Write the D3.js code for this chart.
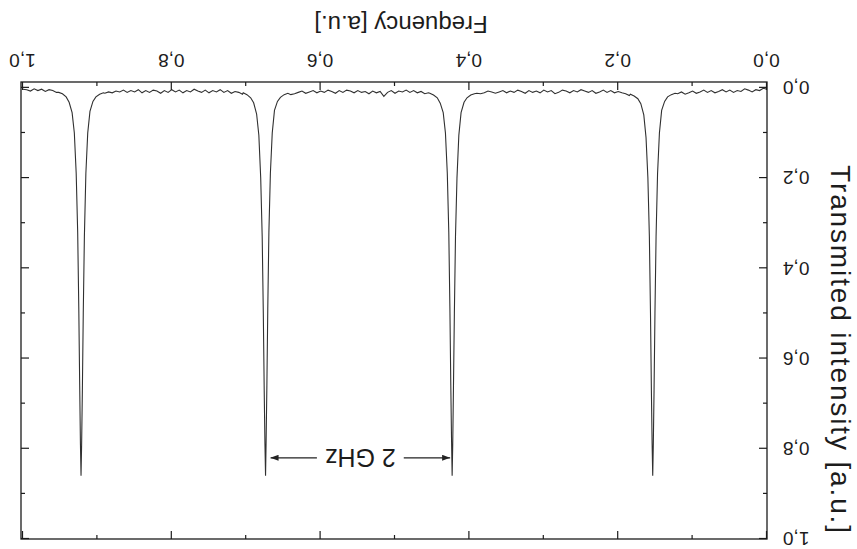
<!DOCTYPE html>
<html>
<head>
<meta charset="utf-8">
<script src="https://cdn.jsdelivr.net/npm/d3@7"></script>
<style>
  body { margin: 0; background: #fff; }
  text { font-family: "Liberation Sans", Arial, sans-serif; fill: #1c1c1c; }
</style>
</head>
<body>
<svg id="chart" width="857" height="549"></svg>
<script>
// transmission peaks: centre frequency of each peak
var peakCenters = [0.1536, 0.4232, 0.674, 0.922];
// offsets from the centre where the peak profile was read
var peakOffsets = [-0.03, -0.025, -0.02, -0.016, -0.012, -0.009, -0.0065, -0.0045, -0.003, -0.0018, -0.0008, 0,
                    0.0008, 0.0018, 0.003, 0.0045, 0.0065, 0.009, 0.012, 0.016, 0.02, 0.025, 0.03];
var peak1 = [0.012, 0.015, 0.02, 0.03, 0.05, 0.10, 0.19, 0.33, 0.50, 0.67, 0.79, 0.86, 0.79, 0.67, 0.50, 0.33, 0.20, 0.11, 0.06, 0.035, 0.024, 0.018, 0.014];
var peak2 = [0.013, 0.016, 0.022, 0.032, 0.055, 0.105, 0.20, 0.33, 0.50, 0.66, 0.79, 0.86, 0.78, 0.66, 0.49, 0.32, 0.19, 0.10, 0.055, 0.034, 0.022, 0.016, 0.012];
var peak3 = [0.012, 0.015, 0.021, 0.03, 0.05, 0.10, 0.19, 0.32, 0.49, 0.66, 0.78, 0.86, 0.79, 0.67, 0.50, 0.33, 0.20, 0.105, 0.058, 0.033, 0.022, 0.015, 0.011];
var peak4 = [0.011, 0.014, 0.02, 0.03, 0.052, 0.10, 0.19, 0.33, 0.50, 0.67, 0.79, 0.86, 0.79, 0.66, 0.49, 0.32, 0.19, 0.10, 0.055, 0.032, 0.02, 0.013, 0.010];

// noisy baseline between the peaks, sampled every 0.005
var baseStep = 0.005;
var baseA = {start: 0.000, values: [
  0.003,0.001,0.006,0.004,0.009,0.005,0.002,0.008,0.006,0.010,
  0.005,0.009,0.004,0.008,0.011,0.006,0.010,0.005,0.009,0.012,
  0.007,0.011,0.014,0.009,0.013]};
var baseB = {start: 0.185, values: [
  0.017,0.013,0.011,0.008,0.011,0.006,0.010,0.005,0.009,0.012,
  0.006,0.010,0.007,0.004,0.009,0.006,0.011,0.007,0.005,0.010,
  0.013,0.006,0.009,0.005,0.011,0.007,0.010,0.006,0.012,0.008,
  0.005,0.010,0.007,0.011,0.006,0.009,0.012,0.009,0.007,0.011,
  0.013,0.012]};
var baseC = {start: 0.455, values: [
  0.011,0.013,0.008,0.011,0.006,0.010,0.005,0.009,0.007,0.012,
  0.006,0.010,0.019,0.008,0.011,0.007,0.013,0.008,0.010,0.006,
  0.011,0.007,0.005,0.010,0.006,0.012,0.008,0.005,0.010,0.007,
  0.011,0.006,0.009,0.012,0.007,0.010,0.013,0.015]};
var baseD = {start: 0.705, values: [
  0.014,0.010,0.008,0.012,0.006,0.010,0.004,0.009,0.006,0.011,
  0.005,0.010,0.007,0.003,0.009,0.006,0.011,0.005,0.009,0.004,
  0.010,0.006,0.012,0.007,0.005,0.010,0.006,0.011,0.004,0.009,
  0.006,0.010,0.005,0.009,0.007,0.011,0.009,0.012]};
var baseE = {start: 0.955, values: [
  0.010,0.006,0.004,0.008,0.003,0.006,0.002,0.007,0.004,0.003]};

var xMajor = [0, 0.2, 0.4, 0.6, 0.8, 1.0];
var xMinor = [0.1, 0.3, 0.5, 0.7, 0.9];
var yMajor = [0, 0.2, 0.4, 0.6, 0.8, 1.0];
var yMinor = [0.1, 0.3, 0.5, 0.7, 0.9];
var tickLabels = ["0,0", "0,2", "0,4", "0,6", "0,8", "1,0"];

var xTitle = "Frequency [a.u.]";
var yTitle = "Transmited intensity [a.u.]";
var spacing = {text: "2 GHz", from: 1, to: 2, level: 0.82}; // between peak 2 and peak 3

// ---- build the trace ----
var points = [];
[baseA, baseB, baseC, baseD, baseE].forEach(function(seg){
  seg.values.forEach(function(v, i){ points.push([seg.start + i * baseStep, v]); });
});
[peak1, peak2, peak3, peak4].forEach(function(vals, p){
  vals.forEach(function(v, i){ points.push([peakCenters[p] + peakOffsets[i], v]); });
});
points.sort(function(a, b){ return a[0] - b[0]; });

var W = 857, H = 549;
var frame = {left: 90, right: 836, top: 10, bottom: 467};

var x = d3.scaleLinear().domain([0, 1]).range([frame.left, 834]);
var y = d3.scaleLinear().domain([-0.013, 1]).range([frame.bottom, frame.top]);

var svg = d3.select('#chart');
svg.append('rect').attr('width', W).attr('height', H).attr('fill', '#fff');

// the figure was scanned upside down
var g = svg.append('g').attr('transform', 'rotate(180 ' + W / 2 + ' ' + H / 2 + ')');

var defs = svg.append('defs');
defs.append('marker').attr('id', 'arrow')
  .attr('viewBox', '0 0 8 6').attr('refX', 8).attr('refY', 3)
  .attr('markerWidth', 8).attr('markerHeight', 6).attr('markerUnits', 'userSpaceOnUse')
  .attr('orient', 'auto-start-reverse')
  .append('path').attr('d', 'M0,0L8,3L0,6z').attr('fill', '#222');

// trace
g.append('path')
  .datum(points)
  .attr('fill', 'none')
  .attr('stroke', '#303030')
  .attr('stroke-width', 1.1)
  .attr('d', d3.line().x(function(d){ return x(d[0]); }).y(function(d){ return y(d[1]); }));

// axes, ticks point inward on all four sides
function styleAxis(sel){
  sel.select('.domain').remove();
  sel.selectAll('line').attr('stroke', '#1c1c1c').attr('stroke-width', 1.2);
  sel.selectAll('text').style('font-size', '19px').attr('fill', '#1c1c1c');
}
g.append('g').attr('transform', 'translate(0,' + frame.bottom + ')')
  .call(d3.axisBottom(x).tickValues(xMajor).tickSizeInner(-8).tickSizeOuter(0).tickPadding(15)
    .tickFormat(function(d, i){ return tickLabels[i]; }))
  .call(styleAxis);
g.append('g').attr('transform', 'translate(0,' + frame.bottom + ')')
  .call(d3.axisBottom(x).tickValues(xMinor).tickSizeInner(-4).tickSizeOuter(0).tickFormat(''))
  .call(styleAxis);
g.append('g').attr('transform', 'translate(0,' + frame.top + ')')
  .call(d3.axisTop(x).tickValues(xMajor).tickSizeInner(-8).tickSizeOuter(0).tickFormat(''))
  .call(styleAxis);
g.append('g').attr('transform', 'translate(0,' + frame.top + ')')
  .call(d3.axisTop(x).tickValues(xMinor).tickSizeInner(-4).tickSizeOuter(0).tickFormat(''))
  .call(styleAxis);
g.append('g').attr('transform', 'translate(' + frame.left + ',0)')
  .call(d3.axisLeft(y).tickValues(yMajor).tickSizeInner(-8).tickSizeOuter(0).tickPadding(16)
    .tickFormat(function(d, i){ return tickLabels[i]; }))
  .call(styleAxis);
g.append('g').attr('transform', 'translate(' + frame.left + ',0)')
  .call(d3.axisLeft(y).tickValues(yMinor).tickSizeInner(-4).tickSizeOuter(0).tickFormat(''))
  .call(styleAxis);
g.append('g').attr('transform', 'translate(' + frame.right + ',0)')
  .call(d3.axisRight(y).tickValues(yMajor).tickSizeInner(-8).tickSizeOuter(0).tickFormat(''))
  .call(styleAxis);
g.append('g').attr('transform', 'translate(' + frame.right + ',0)')
  .call(d3.axisRight(y).tickValues(yMinor).tickSizeInner(-4).tickSizeOuter(0).tickFormat(''))
  .call(styleAxis);

// frame
g.append('rect')
  .attr('x', frame.left).attr('y', frame.top)
  .attr('width', frame.right - frame.left).attr('height', frame.bottom - frame.top)
  .attr('fill', 'none').attr('stroke', '#1c1c1c').attr('stroke-width', 1.3);

// titles
g.append('text')
  .attr('x', 456).attr('y', 533)
  .attr('text-anchor', 'middle').style('font-size', '24px')
  .text(xTitle);
g.append('text')
  .attr('transform', 'translate(26,' + 200 + ') rotate(-90)')
  .attr('text-anchor', 'middle').style('font-size', '28px')
  .attr('textLength', 368).attr('lengthAdjust', 'spacing')
  .text(yTitle);

// spacing annotation between two adjacent peaks
var ax0 = x(peakCenters[spacing.from]) + 2, ax1 = x(peakCenters[spacing.to]) - 5;
var ay = y(spacing.level);
var label = g.append('text')
  .attr('x', (ax0 + ax1) / 2).attr('y', ay)
  .attr('dy', '0.36em').attr('text-anchor', 'middle').style('font-size', '25px')
  .text(spacing.text);
var half = label.node().getComputedTextLength() / 2;
g.append('line')
  .attr('x1', ax0).attr('x2', (ax0 + ax1) / 2 - half - 8).attr('y1', ay).attr('y2', ay)
  .attr('stroke', '#222').attr('stroke-width', 1.2).attr('marker-start', 'url(#arrow)');
g.append('line')
  .attr('x1', (ax0 + ax1) / 2 + half + 8).attr('x2', ax1).attr('y1', ay).attr('y2', ay)
  .attr('stroke', '#222').attr('stroke-width', 1.2).attr('marker-end', 'url(#arrow)');
</script>
</body>
</html>
